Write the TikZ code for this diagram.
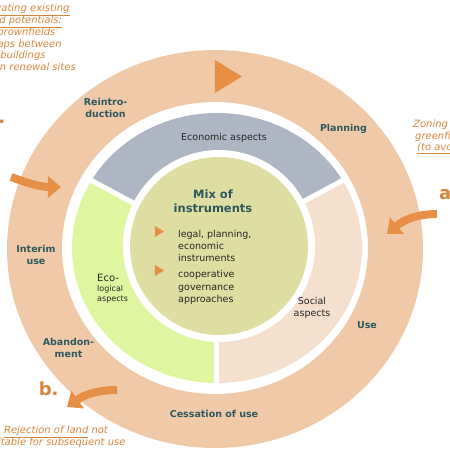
\documentclass[tikz,border=0pt]{standalone}
\usepackage{fontspec}
\setmainfont{DejaVu Sans}[BoldFont={DejaVu Sans Bold},ItalicFont={DejaVu Sans Oblique},BoldItalicFont={DejaVu Sans Bold Oblique}]
\usetikzlibrary{arrows.meta}
\definecolor{ringpeach}{RGB}{240,202,168}
\definecolor{econgray}{RGB}{174,182,196}
\definecolor{ecolgreen}{RGB}{224,245,160}
\definecolor{socpink}{RGB}{245,224,205}
\definecolor{mixkhaki}{RGB}{222,221,162}
\definecolor{labelteal}{RGB}{46,88,96}
\definecolor{noteorange}{RGB}{214,134,60}
\definecolor{arroworange}{RGB}{232,143,70}

\begin{document}
\begin{tikzpicture}[x=1pt,y=1pt,
    phase/.style={text=labelteal,font=\fontsize{9.5}{12}\selectfont\bfseries,align=center,inner sep=0pt},
    aspect/.style={text=black!85,font=\fontsize{9.5}{12}\selectfont,align=center,inner sep=0pt},
    tool/.style={text=black!85,font=\fontsize{9.5}{12.2}\selectfont,align=left,anchor=north west,inner sep=0pt},
    note/.style={text=noteorange,font=\fontsize{10}{11.8}\selectfont\itshape,align=center,inner sep=0pt},
    caselbl/.style={text=noteorange,font=\fontsize{18}{20}\selectfont\bfseries,inner sep=0pt},
    bent/.style={draw=arroworange,line width=8pt,-{Triangle[length=13pt,width=21pt]}}]
    \useasboundingbox (-217,-202) rectangle (233,248);
    \clip (-217,-202) rectangle (233,248);

    % cycle ring
    \fill[ringpeach,even odd rule] (-2,-1) ellipse (208 and 199) (-2,0) ellipse (153 and 146);

    % three aspects
    \fill[econgray] (0,0) -- (30:145 and 135) arc[start angle=30,end angle=150,x radius=145,y radius=135] -- cycle;
    \fill[ecolgreen] (0,0) -- (150:145 and 135) arc[start angle=150,end angle=270,x radius=145,y radius=135] -- cycle;
    \fill[socpink] (0,0) -- (270:145 and 135) arc[start angle=270,end angle=390,x radius=145,y radius=135] -- cycle;
    \draw[white,line width=5pt] (0,0) -- (30:147 and 137);
    \draw[white,line width=5pt] (0,0) -- (150:147 and 137);
    \draw[white,line width=5pt] (0,0) -- (270:147 and 137);
    \fill[white] (2,2) circle (96);
    \fill[mixkhaki] (2,2) circle (89);

    % direction of the cycle
    \fill[arroworange] (-2,188) -- (-2,155) -- (25,171.5) -- cycle;

    \coordinate (c tail) at (-206,71);
    \coordinate (c tip) at (-156,61);
    \draw[bent] (c tail) to[out=-20,in=180] (c tip);
    \coordinate (a tail) at (220,34);
    \coordinate (a tip) at (170,14);
    \draw[bent] (a tail) to[out=180,in=40] (a tip);
    \coordinate (b tail) at (-100,-142);
    \coordinate (b tip) at (-150,-159);
    \draw[bent] (b tail) to[out=180,in=35] (b tip);

    % phases
    \node[phase] (reintro) at (-111.5,140.5) {Reintro-\\duction};
    \node[phase] (planning) at (126.5,119.5) {Planning};
    \node[phase] (use) at (150,-77) {Use};
    \node[phase] (cessation) at (-3,-165.5) {Cessation of use};
    \node[phase] (abandon) at (-148.5,-100) {Abandon-\\ment};
    \node[phase] (interim) at (-181,-7) {Interim\\use};

    % aspects
    \node[aspect] (econ) at (7,110.5) {Economic aspects};
    \node[aspect,align=left,anchor=north west,font=\fontsize{8}{10}\selectfont] (ecol) at (-120,-25.7) {{\fontsize{10}{11}\selectfont Eco-}\\logical\\aspects};
    \node[aspect] (social) at (95,-60) {Social\\aspects};

    % instruments
    \node[text=labelteal,font=\fontsize{11.5}{14.5}\selectfont\bfseries,align=center,inner sep=0pt] (mix) at (-4,47) {Mix of\\instruments};
    \fill[arroworange] (-62,22) -- (-62,11) -- (-53,16.5) -- cycle;
    \fill[arroworange] (-62,-17) -- (-62,-28) -- (-53,-22.5) -- cycle;
    \node[tool] (legal) at (-39,18) {legal, planning,\\economic\\instruments};
    \node[tool] (coop) at (-39,-22.5) {cooperative\\governance\\approaches};

    % strategies round the cycle
    \node[note,anchor=north] (activate) at (-194,244) {\underline{Activating existing}\\\underline{land potentials:}\\- brownfields\\- gaps between\\buildings\\- urban renewal sites};
    \node[caselbl,anchor=base east] (c label) at (-211.5,124) {c.};
    \node[note,align=left,anchor=north west] (zoning) at (196,128.5) {Zoning of new\\\hspace*{2pt}greenfields\\\hspace*{4pt}\underline{(to avoid)}};
    \node[caselbl,anchor=base west] (a label) at (222,48) {a.};
    \node[caselbl,anchor=base west] (b label) at (-178.4,-147) {b.};
    \node[note,anchor=north] (reject) at (-161,-177.5) {\underline{Rejection of land} not\\suitable for subsequent use};
\end{tikzpicture}
\end{document}
